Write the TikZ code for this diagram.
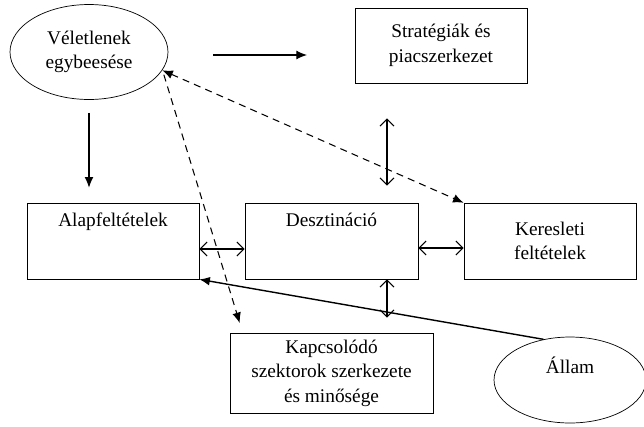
\documentclass[tikz,border=0pt]{standalone}
\usepackage{fontspec}
\setmainfont{Liberation Serif}
\usetikzlibrary{shapes.geometric,arrows.meta}
\begin{document}
\begin{tikzpicture}[x=0.02cm, y=-0.02cm, font=\fontsize{11}{14}\selectfont,
        box/.style={draw, thin, align=center, minimum width=3.44cm, minimum height=1.52cm},
        topbox/.style={box, text height=8pt, text depth=24pt},
        oval/.style={draw, thin, ellipse, align=center},
        fwd/.style={-{Latex[length=6pt,width=5pt]}, semithick},
        dashline/.style={semithick, dash pattern=on 4pt off 3pt},
        both/.style={{Straight Barb[length=4pt,width=8pt]}-{Straight Barb[length=4pt,width=8pt]}, semithick}]
        \useasboundingbox (0,0) rectangle (644,426);
        \node[oval, minimum width=3.16cm, minimum height=1.9cm] (velet) at (89,52) {Véletlenek\\egybeesése};
        \node[box, minimum height=1.5cm] (strat) at (441,45.5) {Stratégiák és\\piacszerkezet};
        \node[topbox] (alap) at (113,241) {Alapfeltételek};
        \node[topbox, minimum width=3.46cm] (deszt) at (331.5,241) {Desztináció};
        \node[box] (keres) at (550,241) {Keresleti\\feltételek};
        \node[box, minimum width=4.06cm, minimum height=1.6cm] (kapcs) at (331.5,373) {Kapcsolódó\\szektorok szerkezete\\és minősége};
        \node[oval, minimum width=3.04cm, minimum height=1.72cm, text height=8pt, text depth=15pt] (allam) at (570,380) {Állam};
        \coordinate (from) at (213,55);
        \coordinate (to) at (307,55);
        \coordinate (mid) at (387,0);
        % solid arrows
        \draw[fwd] (from) -- (to);
        \draw[fwd, shorten <=0.26cm, shorten >=0.3cm] (velet.south) -- (velet.south |- alap.north);
        \draw[both, shorten <=0.7cm, shorten >=0.34cm] (strat.south -| mid) -- (deszt.north -| mid);
        \draw[both, shorten >=0.3cm] (deszt.south -| mid) -- (kapcs.north -| mid);
        \draw[both] ([yshift=-0.16cm]alap.east) -- ([yshift=-0.16cm]deszt.west);
        \draw[both] ([yshift=-0.14cm]deszt.east) -- ([yshift=-0.14cm]keres.west);
        \draw[fwd, thick] (allam.123) -- (alap.south east);
        % dashed ones
        \draw[dashline, {Latex[length=6pt,width=5pt]}-{Latex[length=6pt,width=5pt]}] (velet.-14) -- ([shift={(-0.1,0.1)}]keres.north west);
        \draw[dashline, -{Latex[length=6pt,width=5pt]}, shorten >=0.2cm] ([xshift=0.1cm]velet.-18) -- ([xshift=0.26cm]kapcs.north west);
    \end{tikzpicture}
\end{document}
